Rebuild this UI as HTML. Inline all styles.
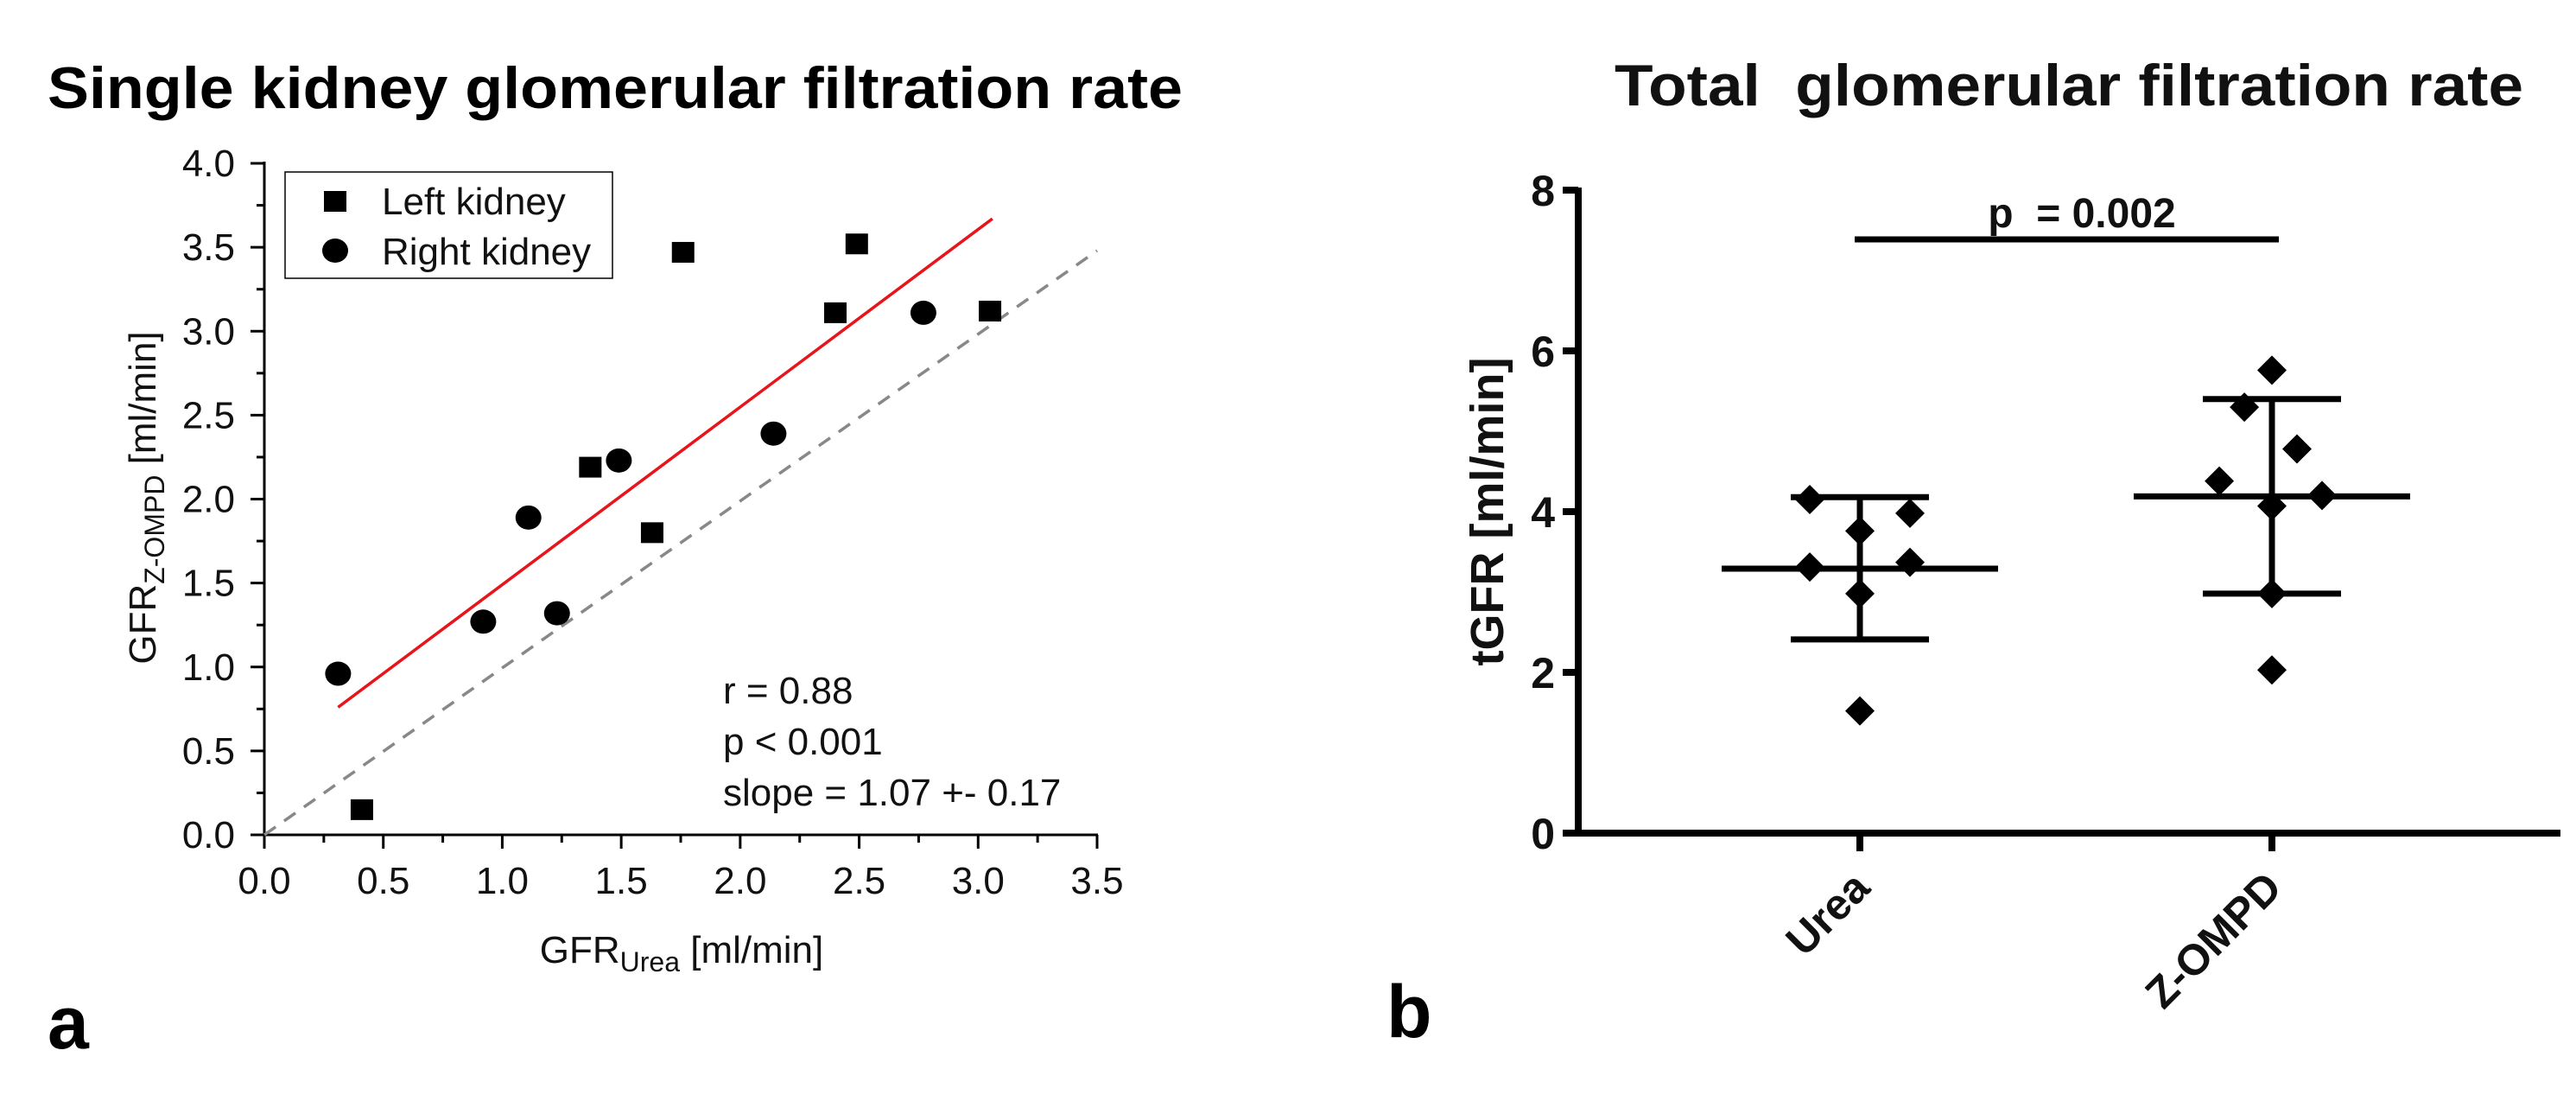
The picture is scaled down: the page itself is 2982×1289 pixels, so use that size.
<!DOCTYPE html>
<html><head><meta charset="utf-8"><style>
html,body{margin:0;padding:0;background:#fff;}
svg{display:block;font-family:"Liberation Sans",Arial,sans-serif;}
</style></head><body>
<svg id="fig" width="2982" height="1289" viewBox="0 0 2982 1289" xmlns="http://www.w3.org/2000/svg">
<rect width="2982" height="1289" fill="#fff"/>
<g id="pa"></g>
<g id="pb"></g>
</svg>
<script>
// Panel a data
const leftX = [0.41, 1.37, 1.63, 1.76, 2.40, 2.49, 3.05];
const leftY = [0.15, 2.19, 1.80, 3.47, 3.11, 3.52, 3.12];
const rightX = [0.31, 0.92, 1.11, 1.23, 1.49, 2.14, 2.77];
const rightY = [0.96, 1.27, 1.89, 1.32, 2.23, 2.39, 3.11];
const fitX = [0.31, 3.06];
const fitY = [0.76, 3.67];
const idX = [0, 3.5];
const idY = [0, 3.48];
const aXTicks = ["0.0","0.5","1.0","1.5","2.0","2.5","3.0","3.5"];
const aYTicks = ["0.0","0.5","1.0","1.5","2.0","2.5","3.0","3.5","4.0"];
// Panel b data
const bCats = ["Urea", "Z-OMPD"];
const ureaVals = [4.15, 3.76, 3.98, 3.31, 3.37, 2.98, 1.52];
const ureaJit = [-1, 0, 1, -1, 1, 0, 0];
const ompdVals = [5.76, 5.30, 4.78, 4.38, 4.20, 4.07, 2.98, 2.03];
const ompdJit = [0, -0.55, 0.5, -1.05, 1, 0, 0, 0];
const bMeans = [3.29, 4.19];
const bUpper = [4.18, 5.40];
const bLower = [2.41, 2.98];
const bYTicks = ["0","2","4","6","8"];
const sigLabel = "p\u00a0 = 0.002";

const NS="http://www.w3.org/2000/svg";
function mk(parent, tag, attrs, text){
  const e=document.createElementNS(NS,tag);
  for(const k in attrs) e.setAttribute(k, attrs[k]);
  if(text!==undefined) e.textContent=text;
  parent.appendChild(e); return e;
}
const pa=document.getElementById('pa');
const pb=document.getElementById('pb');

// ---------- Panel a ----------
const ax0=306, ax1=1270, ay0=966, ay1=189;
const sx=v=>ax0+(v/3.5)*(ax1-ax0);
const sy=v=>ay0-(v/4)*(ay0-ay1);
let t;
t=mk(pa,'text',{x:55,y:125,'font-size':68,'font-weight':'bold',textLength:1314,lengthAdjust:'spacingAndGlyphs'},'Single kidney glomerular filtration rate');


t=mk(pa,'line',{x1:ax0,y1:ay1-2,x2:ax0,y2:ay0+1,stroke:'#000','stroke-width':3});
 
t=mk(pa,'line',{x1:ax0-1,y1:ay0,x2:ax1+1,y2:ay0,stroke:'#000','stroke-width':3});
 
for(let i=0;i<aXTicks.length;i++){
  const x=sx(i*0.5);
  t=mk(pa,'line',{x1:x,y1:ay0,x2:x,y2:ay0+16,stroke:'#000','stroke-width':3});
   
  if(i<aXTicks.length-1){
    t=mk(pa,'line',{x1:sx(i*0.5+0.25),y1:ay0,x2:sx(i*0.5+0.25),y2:ay0+9,stroke:'#000','stroke-width':3});
     
  }
  t=mk(pa,'text',{x:x,y:1034,'font-size':44,'text-anchor':'middle',fill:'#111'},aXTicks[i]);
   
}
for(let i=0;i<aYTicks.length;i++){
  const y=sy(i*0.5);
  t=mk(pa,'line',{x1:ax0,y1:y,x2:ax0-16,y2:y,stroke:'#000','stroke-width':3});
   
  if(i<aYTicks.length-1){
    t=mk(pa,'line',{x1:ax0,y1:sy(i*0.5+0.25),x2:ax0-9,y2:sy(i*0.5+0.25),stroke:'#000','stroke-width':3});
     
  }
  t=mk(pa,'text',{x:272,y:y+15,'font-size':44,'text-anchor':'end',fill:'#111'},aYTicks[i]);
   
}
t=mk(pa,'text',{x:789,y:1114,'font-size':44,'text-anchor':'middle',fill:'#111'});
 
t.innerHTML='GFR<tspan font-size="32" dy="10">Urea</tspan><tspan dy="-10"> [ml/min]</tspan>';
t=mk(pa,'text',{x:0,y:0,'font-size':44,'text-anchor':'middle',fill:'#111',transform:'translate(180,576) rotate(-90)'});
 
t.innerHTML='GFR<tspan font-size="32" dy="10">Z-OMPD</tspan><tspan dy="-10"> [ml/min]</tspan>';
t=mk(pa,'line',{x1:sx(idX[0]),y1:sy(idY[0]),x2:sx(idX[1]),y2:sy(idY[1]),stroke:'#888','stroke-width':3.5,'stroke-dasharray':'16 12'});
 
t=mk(pa,'line',{x1:sx(fitX[0]),y1:sy(fitY[0]),x2:sx(fitX[1]),y2:sy(fitY[1]),stroke:'#e8141b','stroke-width':3.5});
 
for(let i=0;i<leftX.length;i++){
  t=mk(pa,'rect',{x:sx(leftX[i])-13,y:sy(leftY[i])-12,width:26,height:24,fill:'#000'});
   
}
for(let i=0;i<rightX.length;i++){
  t=mk(pa,'ellipse',{cx:sx(rightX[i]),cy:sy(rightY[i]),rx:15,ry:14,fill:'#000'});
   
}
const lg=mk(pa,'g',{});
 
t=mk(lg,'rect',{x:330,y:199,width:379,height:123,fill:'#fff',stroke:'#000','stroke-width':1.5});
 
t=mk(lg,'rect',{x:375,y:221,width:26,height:24,fill:'#000'});
 
t=mk(lg,'text',{x:442,y:248,'font-size':44,fill:'#111'},'Left kidney');
 
t=mk(lg,'ellipse',{cx:388,cy:290,rx:15,ry:14,fill:'#000'});
 
t=mk(lg,'text',{x:442,y:306,'font-size':44,fill:'#111'},'Right kidney');
 
const stats=['r = 0.88','p < 0.001','slope = 1.07 +- 0.17'];
const sb=[814,873,932];
for(let i=0;i<3;i++){
  t=mk(pa,'text',{x:837,y:sb[i],'font-size':44,fill:'#111'},stats[i]);
   
}
t=mk(pa,'text',{x:55,y:1213,'font-size':86,'font-weight':'bold'},'a');
 

// ---------- Panel b ----------
const bx0=1827, by0=964, by1=220;
const bsy=v=>by0-(v/8)*(by0-by1);
const catX=[2153,2630];
const jitW=58;
t=mk(pb,'text',{x:1869,y:122,'font-size':68,'font-weight':'bold',textLength:1052,lengthAdjust:'spacingAndGlyphs',fill:'#111'},'Total\u00a0 glomerular filtration rate');
 
t=mk(pb,'line',{x1:bx0,y1:by1-3,x2:bx0,y2:by0+4,stroke:'#000','stroke-width':8});
 
t=mk(pb,'line',{x1:1809,y1:by0,x2:2964,y2:by0,stroke:'#000','stroke-width':8});
 
for(let i=0;i<bYTicks.length;i++){
  const y=bsy(i*2);
  t=mk(pb,'line',{x1:bx0,y1:y,x2:1809,y2:y,stroke:'#000','stroke-width':8});
   
  t=mk(pb,'text',{x:1800,y:y+18,'font-size':50,'font-weight':'bold','text-anchor':'end',fill:'#111'},bYTicks[i]);
   
}
t=mk(pb,'text',{x:0,y:0,'font-size':54,'font-weight':'bold','text-anchor':'middle',fill:'#111',transform:'translate(1740,592) rotate(-90)'},'tGFR [ml/min]');
 
for(let c=0;c<bCats.length;c++){
  t=mk(pb,'line',{x1:catX[c],y1:by0,x2:catX[c],y2:985,stroke:'#000','stroke-width':8});
   
  t=mk(pb,'text',{x:0,y:0,'font-size':50,'font-weight':'bold','text-anchor':'end',fill:'#111',transform:`translate(${catX[c]+14},1030) rotate(-45)`},bCats[c]);
   
}
for(let c=0;c<bCats.length;c++){
  const x=catX[c];
  t=mk(pb,'line',{x1:x,y1:bsy(bUpper[c]),x2:x,y2:bsy(bLower[c]),stroke:'#000','stroke-width':7});
   
  t=mk(pb,'line',{x1:x-80,y1:bsy(bUpper[c]),x2:x+80,y2:bsy(bUpper[c]),stroke:'#000','stroke-width':7});
   
  t=mk(pb,'line',{x1:x-80,y1:bsy(bLower[c]),x2:x+80,y2:bsy(bLower[c]),stroke:'#000','stroke-width':7});
   
  t=mk(pb,'line',{x1:x-160,y1:bsy(bMeans[c]),x2:x+160,y2:bsy(bMeans[c]),stroke:'#000','stroke-width':7});
   
}
function diamond(x,y){
  const d=17;
  return `${x},${y-d} ${x+d},${y} ${x},${y+d} ${x-d},${y}`;
}
for(let i=0;i<ureaVals.length;i++){
  t=mk(pb,'polygon',{points:diamond(catX[0]+ureaJit[i]*jitW,bsy(ureaVals[i])),fill:'#000'});
   
}
for(let i=0;i<ompdVals.length;i++){
  t=mk(pb,'polygon',{points:diamond(catX[1]+ompdJit[i]*jitW,bsy(ompdVals[i])),fill:'#000'});
   
}
t=mk(pb,'line',{x1:catX[0]-6,y1:277,x2:catX[1]+8,y2:277,stroke:'#000','stroke-width':7});
 
t=mk(pb,'text',{x:2410,y:263,'font-size':48,'font-weight':'bold','text-anchor':'middle',fill:'#111'},sigLabel);
 
t=mk(pb,'text',{x:1605,y:1200,'font-size':86,'font-weight':'bold'},'b');
 
</script>
</body></html>
